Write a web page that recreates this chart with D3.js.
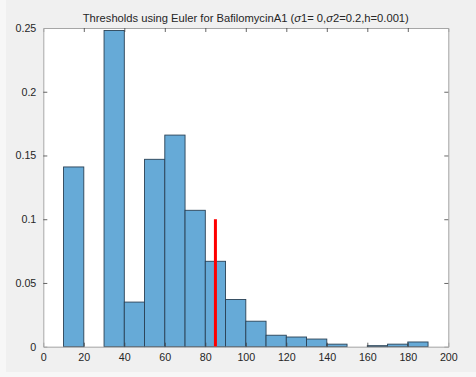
<!DOCTYPE html>
<html>
<head>
<meta charset="utf-8">
<script src="https://cdn.jsdelivr.net/npm/d3@7"></script>
<style>
  html, body { margin: 0; padding: 0; background: #f7f7f7; }
  svg { display: block; }
  text { font-family: "Liberation Sans", Arial, Helvetica, sans-serif; fill: #262626; }
</style>
</head>
<body>
<svg id="chart" width="476" height="377"></svg>
<script>
// Histogram bins (left edges, width 10) and their normalized probabilities
const binEdges = [10, 20, 30, 40, 50, 60, 70, 80, 90, 100, 110, 120, 130, 140, 150, 160, 170, 180];
const binValues = [0.141, 0, 0.248, 0.035, 0.147, 0.166, 0.107, 0.067, 0.037, 0.020, 0.009, 0.0076, 0.006, 0.002, 0, 0.0008, 0.002, 0.0037];
const binWidth = 10;

// Threshold marker
const thresholdX = 85;
const thresholdY = 0.1;

const xTicks = [0, 20, 40, 60, 80, 100, 120, 140, 160, 180, 200];
const yTicks = [0, 0.05, 0.1, 0.15, 0.2, 0.25];
const yTickLabels = ["0", "0.05", "0.1", "0.15", "0.2", "0.25"];

const svg = d3.select("#chart");
const W = 476, H = 377;

// figure background
svg.append("rect").attr("x", 6).attr("y", 0).attr("width", W - 6).attr("height", 372).attr("fill", "#f0f0f0");

const plotLeft = 43.3, plotRight = 448.3, plotTop = 28, plotBottom = 346.7;

const x = d3.scaleLinear().domain([0, 200]).range([plotLeft, plotRight]);
const y = d3.scaleLinear().domain([0, 0.25]).range([plotBottom, plotTop]);

// axes area
svg.append("rect")
  .attr("x", plotLeft).attr("y", plotTop)
  .attr("width", plotRight - plotLeft).attr("height", plotBottom - plotTop)
  .attr("fill", "#ffffff");

// bars
svg.append("g").selectAll("rect")
  .data(binEdges.map((e, i) => ({ x0: e, v: binValues[i] })).filter(d => d.v > 0))
  .join("rect")
  .attr("x", d => x(d.x0))
  .attr("y", d => y(d.v))
  .attr("width", d => x(d.x0 + binWidth) - x(d.x0))
  .attr("height", d => y(0) - y(d.v))
  .attr("fill", "#66aad7")
  .attr("stroke", "#2a4256")
  .attr("stroke-width", 0.9);

// threshold line
svg.append("line")
  .attr("x1", x(thresholdX)).attr("x2", x(thresholdX))
  .attr("y1", y(0)).attr("y2", y(thresholdY))
  .attr("stroke", "#ff0000")
  .attr("stroke-width", 3);

// axes box with inward ticks
const axisColor = "#a6a6a6";
const tickLen = 4;

const xAxisBottom = d3.axisBottom(x).tickValues(xTicks).tickSize(-tickLen).tickPadding(7).tickFormat(d3.format("d"));
const xAxisTop = d3.axisTop(x).tickValues(xTicks).tickSize(-tickLen).tickFormat("");
const yAxisLeft = d3.axisLeft(y).tickValues(yTicks).tickSize(-tickLen).tickPadding(7).tickFormat((d, i) => yTickLabels[i]);
const yAxisRight = d3.axisRight(y).tickValues(yTicks).tickSize(-tickLen).tickFormat("");

function styleAxis(g) {
  g.select(".domain").attr("stroke", axisColor).attr("stroke-width", 1);
  g.selectAll(".tick line").attr("stroke", "#404040").attr("stroke-width", 0.8);
  g.selectAll(".tick text").attr("font-size", 10.7).attr("fill", "#262626")
    .style("font-family", "'Liberation Sans', Arial, Helvetica, sans-serif");
}

svg.append("g").attr("transform", `translate(0,${plotBottom})`).call(xAxisBottom).call(styleAxis);
svg.append("g").attr("transform", `translate(0,${plotTop})`).call(xAxisTop).call(styleAxis);
svg.append("g").attr("transform", `translate(${plotLeft},0)`).call(yAxisLeft).call(styleAxis);
svg.append("g").attr("transform", `translate(${plotRight},0)`).call(yAxisRight).call(styleAxis);

// drop ticks on the box corners so the frame stays clean
svg.selectAll(".tick line").filter(function () {
  const t = d3.select(this.parentNode).datum();
  return t === 0 || t === 200 || t === 0.25;
}).remove();

// title
const title = svg.append("text")
  .attr("x", (plotLeft + plotRight) / 2)
  .attr("y", 22)
  .attr("text-anchor", "middle")
  .attr("font-size", 11.2);
title.append("tspan").text("Thresholds using Euler for BafilomycinA1 (");
title.append("tspan").attr("font-style", "italic").text("σ");
title.append("tspan").text("1= 0,");
title.append("tspan").attr("font-style", "italic").text("σ");
title.append("tspan").text("2=0.2,h=0.001)");
</script>
</body>
</html>
